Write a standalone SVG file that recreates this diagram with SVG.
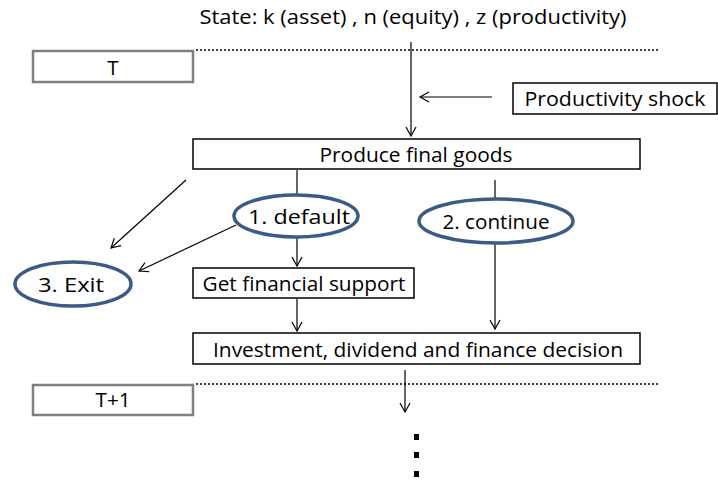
<svg xmlns="http://www.w3.org/2000/svg" width="718" height="483" viewBox="0 0 718 483">
<defs>
<marker id="ah" markerWidth="12" markerHeight="12" refX="10" refY="6" orient="auto" markerUnits="userSpaceOnUse">
<path d="M1,1 L10,6 L1,11" fill="none" stroke="#000" stroke-width="1.2"/>
</marker>
<style>
text{font-family:"Open Sans","Liberation Sans",sans-serif;font-size:20.5px;fill:#000;text-anchor:middle}
.box{fill:#fff;stroke:#000;stroke-width:1.5}
.gbox{fill:#fff;stroke:#7f7f7f;stroke-width:2.5}
.ell{fill:#fff;stroke:#3b5b86;stroke-width:3.5}
.con line{stroke:#000;stroke-width:1.2;fill:none}
.arr{marker-end:url(#ah)}
.dot{stroke:#000;stroke-width:1.3;stroke-dasharray:2 2}
</style>
</defs>
<text id="title" x="413" y="24" textLength="427" lengthAdjust="spacingAndGlyphs">State: k (asset) ,  n (equity) , z (productivity)</text>
<line class="dot" x1="196" y1="50" x2="660" y2="50"/>
<line class="dot" x1="196" y1="384" x2="660" y2="384"/>
<g id="T"><rect class="gbox" x="33" y="51" width="160" height="31"/><text x="113" y="75">T</text></g>
<g id="T1"><rect class="gbox" x="33" y="385" width="160" height="30"/><text x="113" y="407" textLength="35" lengthAdjust="spacingAndGlyphs">T+1</text></g>
<g class="con">
<line class="arr" x1="411" y1="42" x2="411" y2="136"/>
<line class="arr" x1="492" y1="97" x2="420" y2="97"/>
<line class="arr" x1="186" y1="180" x2="111" y2="248"/>
<line x1="297" y1="170" x2="297" y2="195"/>
<line x1="495" y1="180" x2="495" y2="199"/>
<line class="arr" x1="236" y1="225" x2="139" y2="271"/>
<line class="arr" x1="297" y1="238" x2="297" y2="266"/>
<line class="arr" x1="297" y1="299" x2="297" y2="331"/>
<line class="arr" x1="495" y1="243" x2="495" y2="329"/>
<line class="arr" x1="405" y1="370" x2="405" y2="412"/>
</g>
<g id="shock"><rect class="box" x="513" y="83" width="204" height="31"/><text x="615" y="106" textLength="181" lengthAdjust="spacingAndGlyphs">Productivity shock</text></g>
<g id="produce"><rect class="box" x="193" y="139" width="447" height="30"/><text x="416" y="162" textLength="193" lengthAdjust="spacingAndGlyphs">Produce final goods</text></g>
<g id="default"><ellipse class="ell" cx="296" cy="216" rx="62" ry="21"/><text x="299" y="224" textLength="102" lengthAdjust="spacingAndGlyphs">1. default</text></g>
<g id="continue"><ellipse class="ell" cx="496" cy="221" rx="77" ry="22"/><text x="496" y="229" textLength="107" lengthAdjust="spacingAndGlyphs">2. continue</text></g>
<g id="exit"><ellipse class="ell" cx="73" cy="284" rx="58" ry="22"/><text x="71" y="292" textLength="66" lengthAdjust="spacingAndGlyphs">3. Exit</text></g>
<g id="support"><rect class="box" x="193" y="268" width="221" height="30"/><text x="304" y="291" textLength="203" lengthAdjust="spacingAndGlyphs">Get financial support</text></g>
<g id="invest"><rect class="box" x="193" y="333" width="447" height="31"/><text x="418" y="357" textLength="410" lengthAdjust="spacingAndGlyphs">Investment, dividend and finance decision</text></g>
<g id="dots" fill="#000">
<rect x="414" y="434" width="5" height="6"/>
<rect x="414" y="452" width="5" height="6"/>
<rect x="414" y="471" width="5" height="6"/>
</g>
</svg>
